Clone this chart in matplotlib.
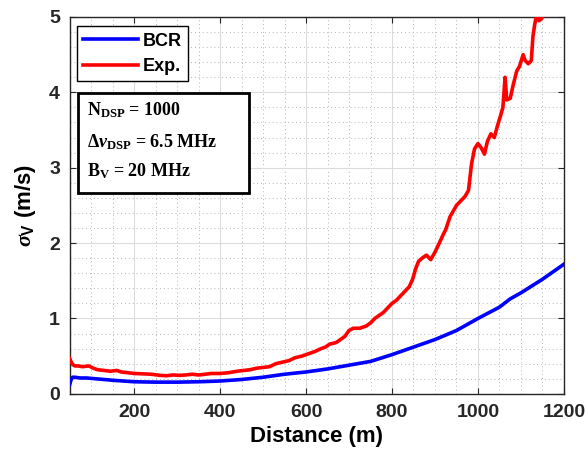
import numpy as np
import matplotlib
matplotlib.use('Agg')
import matplotlib.pyplot as plt
from matplotlib.patches import Rectangle
from matplotlib.ticker import MultipleLocator

# ------------------------------------------------------------------------------------------------ #
# data

bcrDistance = [50, 53, 57, 62, 75, 90, 110, 130, 150, 175, 200, 250, 300, 350, 400, 450, 500,
	550, 600, 650, 700, 750, 800, 850, 900, 950, 1000, 1050, 1075, 1100, 1125, 1150, 1175, 1200]
bcrSigma = [0.12, 0.18, 0.22, 0.22, 0.21, 0.21, 0.20, 0.19, 0.18, 0.17, 0.16, 0.155, 0.155, 0.16,
	0.17, 0.19, 0.22, 0.26, 0.29, 0.33, 0.38, 0.43, 0.52, 0.62, 0.72, 0.84, 1.00, 1.15, 1.26,
	1.34, 1.43, 1.52, 1.62, 1.72]

expDistance = [50, 53, 57, 62, 70, 80, 95, 105, 115, 130, 145, 160, 170, 185, 200, 220, 240, 260,
	275, 290, 305, 320, 335, 350, 365, 380, 400, 420, 440, 455, 470, 485, 500, 515, 530, 545,
	560, 575, 590, 605, 620, 635, 645, 655, 670, 680, 690, 700, 710, 725, 740, 750, 760, 770,
	780, 790, 800, 810, 820, 830, 840, 848, 855, 862, 870, 880, 890, 900, 910, 918, 925, 935,
	942, 950, 960, 970, 978, 985, 992, 1000, 1008, 1015, 1022, 1030, 1038, 1045, 1052, 1058,
	1063, 1067, 1075, 1082, 1090, 1097, 1105, 1110, 1117, 1124, 1128, 1132, 1136, 1142, 1148, 1155]
expSigma = [0.47, 0.43, 0.39, 0.37, 0.37, 0.36, 0.37, 0.34, 0.32, 0.31, 0.30, 0.31, 0.29, 0.28,
	0.27, 0.265, 0.26, 0.245, 0.24, 0.25, 0.245, 0.25, 0.26, 0.25, 0.26, 0.27, 0.27, 0.28, 0.30,
	0.31, 0.32, 0.34, 0.35, 0.36, 0.40, 0.42, 0.44, 0.48, 0.50, 0.53, 0.56, 0.60, 0.62, 0.66,
	0.68, 0.72, 0.76, 0.84, 0.87, 0.87, 0.90, 0.94, 1.0, 1.04, 1.08, 1.14, 1.20, 1.24, 1.30,
	1.36, 1.42, 1.52, 1.66, 1.76, 1.80, 1.84, 1.78, 1.88, 2.00, 2.10, 2.18, 2.35, 2.42, 2.50,
	2.56, 2.62, 2.70, 3.05, 3.25, 3.32, 3.26, 3.18, 3.35, 3.45, 3.40, 3.55, 3.68, 3.80, 4.20,
	3.90, 3.92, 4.10, 4.28, 4.35, 4.50, 4.42, 4.38, 4.42, 4.75, 4.90, 5.02, 4.95, 4.98, 5.05]

seriesLabels = ['BCR', 'Exp.']
infoLines = [r'$\mathrm{N_{DSP}}$ = 1000',
	r'$\Delta\nu_{\mathrm{DSP}}$ = 6.5 MHz',
	r'$\mathrm{B_{V}}$ = 20 MHz']
xTicks = [200, 400, 600, 800, 1000, 1200]
yTicks = [0, 1, 2, 3, 4, 5]
# ------------------------------------------------------------------------------------------------ #

plt.rcParams['mathtext.fontset'] = 'custom'
plt.rcParams['mathtext.rm'] = 'Liberation Serif:bold'
plt.rcParams['mathtext.bf'] = 'Liberation Serif:bold'
plt.rcParams['mathtext.it'] = 'Liberation Serif:italic:bold'
plt.rcParams['mathtext.sf'] = 'Liberation Sans:bold'

axisColor = '#262626'

fig = plt.figure(figsize=(5.85, 4.59), dpi=100)
ax = fig.add_axes([0.119, 0.142, 0.845, 0.821])

ax.plot(bcrDistance, bcrSigma, color=(0, 0, 1), lw=2.6, label=seriesLabels[0], zorder=3)
ax.plot(expDistance, expSigma, color=(1, 0, 0), lw=2.6, label=seriesLabels[1], zorder=3)

ax.set_xlim(50, 1200)
ax.set_ylim(0, 5)
ax.set_xticks(xTicks)
ax.set_yticks(yTicks)
ax.xaxis.set_minor_locator(MultipleLocator(50))
ax.yaxis.set_minor_locator(MultipleLocator(0.2))

ax.grid(which='major', color='#dcdcdc', lw=0.8, ls='-')
ax.grid(which='minor', color='#b4b4b4', lw=0.7, ls=(0, (1, 3)))
ax.set_axisbelow(True)

ax.tick_params(which='both', direction='in', top=True, right=True, colors=axisColor)
ax.tick_params(which='major', length=4, labelsize=14, pad=7)
ax.tick_params(which='minor', length=0)
for lab in ax.get_xticklabels() + ax.get_yticklabels():
	lab.set_fontfamily('Liberation Sans')
	lab.set_fontweight('bold')
for sp in ax.spines.values():
	sp.set_color(axisColor)
	sp.set_linewidth(1.0)

ax.set_xlabel('Distance (m)', fontfamily='Liberation Sans', fontweight='bold', fontsize=16,
	color='black', labelpad=4)
ax.set_ylabel(r'$\sigma_{\mathsf{V}}$ (m/s)', fontfamily='Liberation Sans', fontweight='bold',
	fontsize=16, color='black', labelpad=8)

leg = ax.legend(loc='upper left', bbox_to_anchor=(0.015, 0.975), fancybox=False, framealpha=1,
	edgecolor='black', handlelength=3.0, handletextpad=0.3, borderpad=0.35, labelspacing=0.45,
	borderaxespad=0, prop={'family': 'Liberation Sans', 'weight': 'bold', 'size': 13})
leg.get_frame().set_linewidth(1.0)

ax.add_patch(Rectangle((0.017, 0.533), 0.346, 0.265, transform=ax.transAxes, facecolor='white',
	edgecolor='black', lw=2.0, zorder=5))
infoY = [0.740, 0.655, 0.578]
for line, yPos in zip(infoLines, infoY):
	ax.text(0.035, yPos, line, transform=ax.transAxes, fontfamily='Liberation Serif',
		fontweight='bold', fontsize=13, va='baseline', ha='left', zorder=6)

fig.savefig('out.png', dpi=100)
